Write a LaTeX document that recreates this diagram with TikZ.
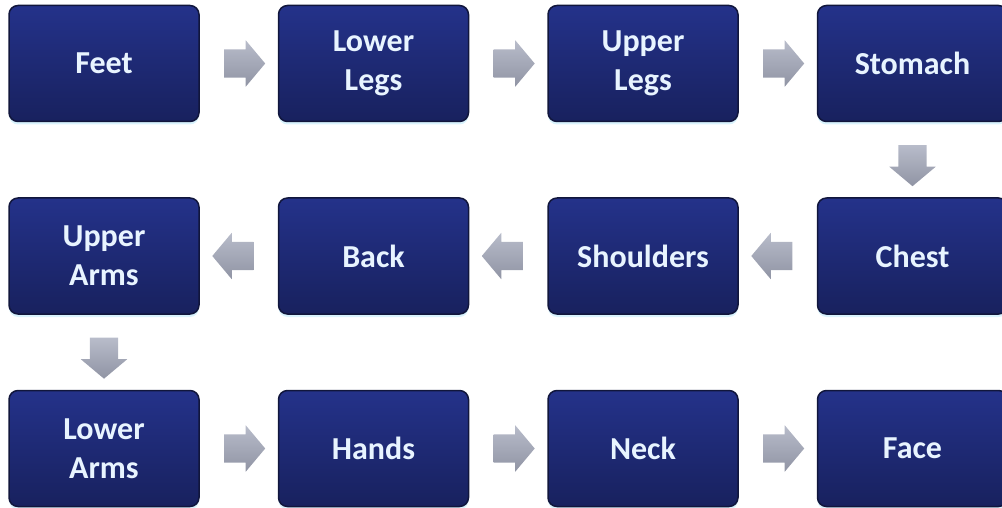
\documentclass[tikz,border=0pt]{standalone}
\usepackage{fontspec}
\setmainfont{Carlito}
\usetikzlibrary{positioning,calc,shapes.arrows,shadows}

\definecolor{boxtop}{HTML}{24328A}
\definecolor{boxbottom}{HTML}{18215E}
\definecolor{boxline}{HTML}{11163C}
\definecolor{boxtext}{HTML}{E8F4FF}
\definecolor{arrowtop}{HTML}{B8BCCA}
\definecolor{arrowbottom}{HTML}{9094A4}

\begin{document}
\begin{tikzpicture}[x=1pt, y=1pt, line join=round, node distance=75pt and 78pt,
  bodypart/.style={rectangle, rounded corners=9pt, draw=boxline, line width=1.5pt,
    top color=boxtop, bottom color=boxbottom, text=boxtext, align=center,
    minimum width=190pt, minimum height=116pt, inner sep=0pt,
    font=\fontsize{32}{39}\selectfont\bfseries,
    general shadow={fill=cyan!15!white, shadow xshift=0pt, shadow yshift=-3pt}},
  flowarrow/.style={single arrow, draw=none, top color=arrowtop, bottom color=arrowbottom,
    inner sep=0pt, inner ysep=14pt, minimum height=41pt,
    single arrow head extend=9pt, single arrow tip angle=100}]
  \useasboundingbox (0,0) rectangle (1002,-508);
  % first row, left to right
  \node[bodypart] (feet) at (104,-63.5) {Feet};
  \node[bodypart, right=of feet] (lowerlegs) {Lower\\Legs};
  \node[bodypart, right=of lowerlegs] (upperlegs) {Upper\\Legs};
  \node[bodypart, right=of upperlegs] (stomach) {Stomach};
  % second row, right to left
  \node[bodypart, below=of stomach] (chest) {Chest};
  \node[bodypart, left=of chest] (shoulders) {Shoulders};
  \node[bodypart, left=of shoulders] (back) {Back};
  \node[bodypart, left=of back] (upperarms) {Upper\\Arms};
  % third row, left to right
  \node[bodypart, below=of upperarms] (lowerarms) {Lower\\Arms};
  \node[bodypart, right=of lowerarms] (hands) {Hands};
  \node[bodypart, right=of hands] (neck) {Neck};
  \node[bodypart, right=of neck] (face) {Face};
  % arrows
  \node[flowarrow] (a1) at ($(feet.east)!0.5!(lowerlegs.west)$) {};
  \node[flowarrow] (a2) at ($(lowerlegs.east)!0.5!(upperlegs.west)$) {};
  \node[flowarrow] (a3) at ($(upperlegs.east)!0.5!(stomach.west)$) {};
  \node[flowarrow, rotate=-90] (a4) at ($(stomach.south)!0.5!(chest.north)$) {};
  \node[flowarrow, rotate=180] (a5) at ($(chest.west)!0.5!(shoulders.east)$) {};
  \node[flowarrow, rotate=180] (a6) at ($(shoulders.west)!0.5!(back.east)$) {};
  \node[flowarrow, rotate=180] (a7) at ($(back.west)!0.5!(upperarms.east)$) {};
  \node[flowarrow, rotate=-90] (a8) at ($(upperarms.south)!0.5!(lowerarms.north)$) {};
  \node[flowarrow] (a9) at ($(lowerarms.east)!0.5!(hands.west)$) {};
  \node[flowarrow] (a10) at ($(hands.east)!0.5!(neck.west)$) {};
  \node[flowarrow] (a11) at ($(neck.east)!0.5!(face.west)$) {};
\end{tikzpicture}
\end{document}
